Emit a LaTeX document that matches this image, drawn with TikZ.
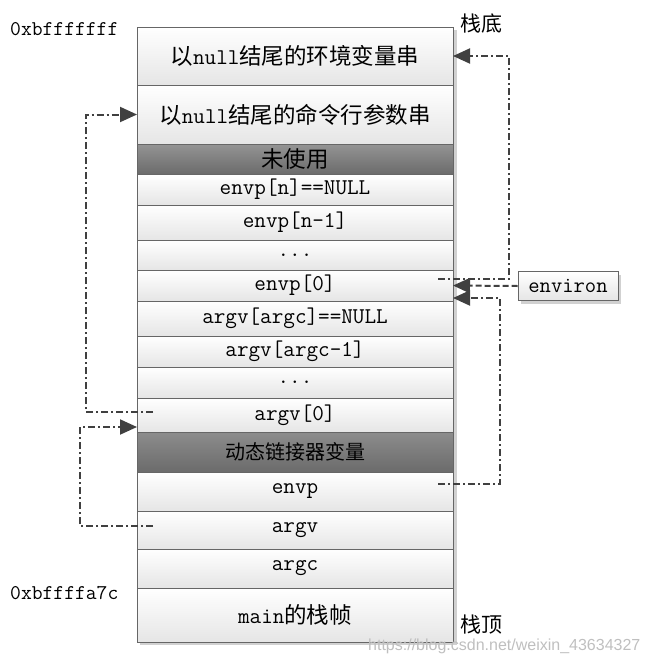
\documentclass[tikz,border=0pt]{standalone}
\usepackage{fontspec}
\newfontfamily\cjk{Noto Sans CJK SC}
\newfontfamily\wmfont{Liberation Sans}
\usetikzlibrary{arrows.meta}
\newcommand\ellip{...}

\tikzset{
  cell/.style={draw=black!60, line width=0.8pt, minimum width=316pt, inner sep=0pt, outer sep=0pt,
    anchor=north, font=\ttfamily\fontsize{22.5}{26}\selectfont},
  tag/.style={draw=black!60, line width=0.8pt, top color=white, bottom color=black!10,
    minimum width=100pt, minimum height=29pt, inner sep=0pt, font=\ttfamily\fontsize{22}{26}\selectfont},
  ptr/.style={draw=black!75, line width=2pt, dash pattern=on 7pt off 3pt on 2pt off 3pt,
    -{Triangle[length=17pt,width=15pt]}},
  ptrdash/.style={ptr, dash pattern=on 6pt off 3pt},
  addr/.style={anchor=west, inner sep=0pt, font=\ttfamily\fontsize{21}{25}\selectfont},
}

\begin{document}
\begin{tikzpicture}[x=1pt,y=-1pt]
\useasboundingbox (0,0) rectangle (652,662);
% shadow of the stack
\fill[black!18] (140,30) rectangle (457,645);
\foreach \n/\ya/\yb/\tc/\bc/\t in {
  envs/27/85/white/black!10/{\cjk 以}null{\cjk 结尾的环境变量串},
  args/85/144/white/black!10/{\cjk 以}null{\cjk 结尾的命令行参数串},
  unused/144/174/black!42/black!58/{\cjk 未使用},
  envpn/174/205/white/black!10/envp[n]==NULL,
  envpn1/205/240/white/black!10/envp[n-1],
  envdots/240/270/white/black!10/\ellip,
  envp0/270/301/white/black!10/envp[0],
  argvn/301/336/white/black!10/argv[argc]==NULL,
  argvn1/336/367/white/black!10/argv[argc-1],
  argdots/367/398/white/black!10/\ellip,
  argv0/398/432/white/black!10/argv[0],
  ldvars/432/472/black!45/black!58/{\cjk\fontsize{20}{24}\selectfont 动态链接器变量},
  envp/472/511/white/black!10/envp,
  argv/511/549/white/black!10/argv,
  argc/549/588/white/black!10/argc,
  frame/588/642/white/black!10/main{\cjk 的栈帧}}
  \node[cell, top color=\tc, bottom color=\bc, minimum height={(\yb-\ya)*1pt}] (\n) at (295,\ya) {\t};

\node[addr] (hi) at (10,29) {0xbfffffff};
\node[addr] (lo) at (10,593) {0xbffffa7c};
\node[addr, font=\cjk\fontsize{21}{25}\selectfont] (bottom) at (460,24) {栈底};
\node[addr, font=\cjk\fontsize{21}{25}\selectfont] (top) at (460,625) {栈顶};

\fill[black!18] (521,275) rectangle (621,304);
\node[tag] (environ) at (568,286) {environ};

\draw[ptrdash] (environ.west) -- (envp0.east);
\draw[ptr] ([xshift=-15pt,yshift=7pt]envp0.east) -- ++(71,0) |- (envs.east);
\draw[ptr] ([xshift=-15pt,yshift=8pt]envp.east) -- ++(62,0) |- ([yshift=3pt]envp0.south east);
\draw[ptr] ([xshift=16pt,yshift=3pt]argv0.west) -- ++(-67,0) |- (args.west);
\draw[ptr] ([xshift=16pt,yshift=4pt]argv.west) -- ++(-73,0) |- ([yshift=5pt]argv0.south west);

\node[anchor=west, inner sep=0pt, text=black!25, font=\wmfont\fontsize{16}{18}\selectfont] (wm) at (368,646) {https://blog.csdn.net/weixin\_43634327};
\end{tikzpicture}
\end{document}
